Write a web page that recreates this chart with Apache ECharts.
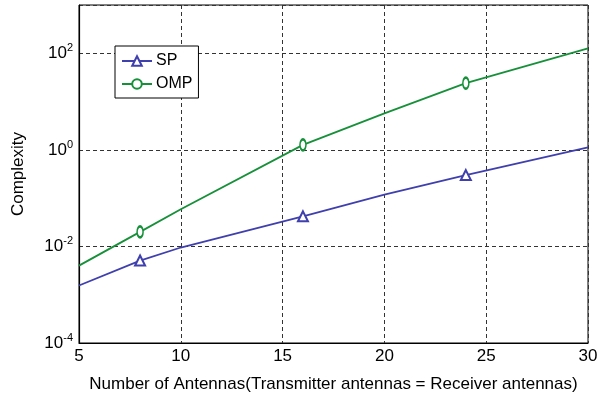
<!DOCTYPE html>
<html>
<head>
<meta charset="utf-8">
<script src="https://cdn.jsdelivr.net/npm/echarts@6/dist/echarts.min.js"></script>
<style>html,body{margin:0;padding:0;background:#fff}#main{width:602px;height:400px}</style>
</head>
<body>
<div id="main"></div>
<script>
var chart = echarts.init(document.getElementById('main'));

// values
var antennas = [5, 8, 10, 16, 20, 24, 30];
var spVals = [1.55e-3, 5.1e-3, 9.5e-3, 0.042, 0.118, 0.30, 1.12];
var ompVals = [4.0e-3, 0.020, 0.059, 1.27, 5.7, 24, 126];
var markerAt = [8, 16, 24];

var blue = '#3f3fae';
var green = '#17903a';
var font = 'Liberation Sans';

function pairs(xs, ys) {
    return xs.map(function (x, i) {
        return {
            value: [x, ys[i]],
            symbolSize: markerAt.indexOf(x) >= 0 ? undefined : 0
        };
    });
}

var sup = {
    b: { fontSize: 17, fontFamily: font, color: '#000' },
    s: { fontSize: 11, fontFamily: font, color: '#000', verticalAlign: 'top', padding: [0, 0, 10, 0] }
};

option = {
    backgroundColor: '#fff',
    animation: false,
    grid: {
        left: 79, right: 14, top: 5, bottom: 57,
        show: true, borderColor: '#000', borderWidth: 1
    },
    legend: {
        orient: 'vertical',
        left: 115, top: 46,
        backgroundColor: '#fff',
        borderColor: '#000', borderWidth: 1,
        padding: [7, 6, 6, 6],
        itemGap: 7,
        itemWidth: 30, itemHeight: 12,
        textStyle: { fontFamily: font, fontSize: 16, color: '#000', padding: [0, 0, 0, -1] },
        data: ['SP', 'OMP']
    },
    xAxis: {
        type: 'value',
        min: 5, max: 30, interval: 5,
        name: 'Number of Antennas(Transmitter antennas = Receiver antennas)',
        nameLocation: 'middle', nameGap: 33,
        nameTextStyle: { fontFamily: font, fontSize: 17, color: '#000' },
        axisLine: { lineStyle: { color: '#000', width: 1.2 } },
        axisTick: { show: false },
        axisLabel: { fontFamily: font, fontSize: 17, color: '#000', margin: 5 },
        splitLine: { lineStyle: { color: '#333', type: [4, 3], width: 1 } }
    },
    yAxis: {
        type: 'log', logBase: 10,
        min: 1e-4, max: 1e3, interval: 2,
        name: 'Complexity',
        nameLocation: 'middle', nameGap: 52,
        nameTextStyle: { fontFamily: font, fontSize: 17, color: '#000' },
        axisLine: { lineStyle: { color: '#000', width: 1.2 } },
        axisTick: { show: false },
        axisLabel: {
            margin: 6,
            formatter: function (v) {
                var e = Math.round(Math.log10(v));
                if (e % 2 !== 0 || e > 2) return '';
                return '{b|10}{s|' + e + '}';
            },
            rich: sup
        },
        splitLine: {
            lineStyle: { color: '#333', type: [4, 3], width: 1 }
        }
    },
    series: [{
        name: 'SP',
        type: 'line',
        data: pairs(antennas, spVals),
        symbol: 'emptyTriangle',
        symbolSize: 10,
        color: blue,
        lineStyle: { width: 1.8, color: blue },
        itemStyle: { color: blue, borderWidth: 1.8 }
    }, {
        name: 'OMP',
        type: 'line',
        data: pairs(antennas, ompVals),
        symbol: 'emptyCircle',
        symbolSize: [6, 11],
        color: green,
        lineStyle: { width: 1.8, color: green },
        itemStyle: { color: green, borderWidth: 1.8 }
    }]
};
chart.setOption(option);
</script>
</body>
</html>
